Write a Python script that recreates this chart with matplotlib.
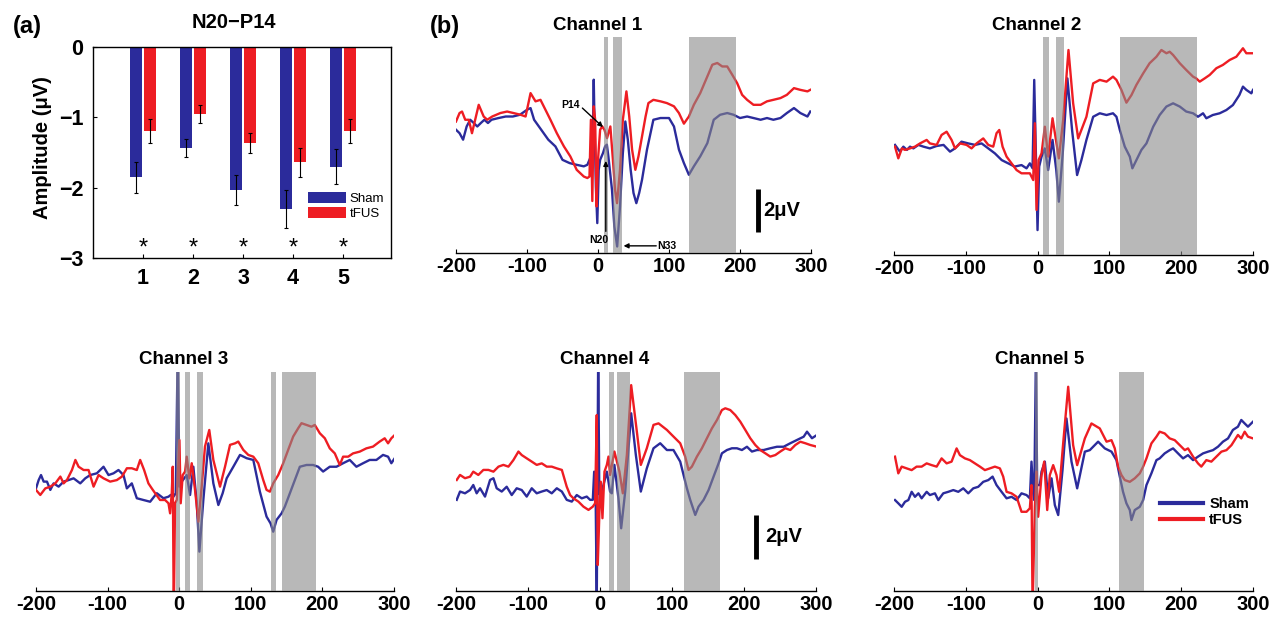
import matplotlib
matplotlib.use('Agg')
import matplotlib.pyplot as plt
import numpy as np

plt.rcParams['font.family'] = ['Liberation Sans', 'DejaVu Sans']
plt.rcParams['font.weight'] = 'bold'

BLUE = '#2B2B9B'
RED = '#EE1D23'
SHADE = '#8A8A8A'

# ---------------- Panel (a) data ----------------
channels = [1, 2, 3, 4, 5]
sham_amp = [-1.85, -1.44, -2.03, -2.30, -1.70]
sham_err = [0.22, 0.13, 0.21, 0.27, 0.25]
tfus_amp = [-1.20, -0.95, -1.36, -1.64, -1.19]
tfus_err = [0.17, 0.13, 0.14, 0.21, 0.17]
a_yticks = [0, -1, -2, -3]
a_yticklabels = ['0', '\u22121', '\u22122', '\u22123']

# ---------------- Panel (b) data (time in ms, amplitude in uV) ----------------
b_xticks = [-200, -100, 0, 100, 200, 300]
b_xticklabels = ['-200', '-100', '0', '100', '200', '300']

ch1_sham_t = [-200,-195,-190,-185,-180,-175,-170,-165,-160,-155,-150,-140,-130,-120,-110,-100,-95,-90,-80,-70,-60,-50,-40,-30,-20,-15,-10,-8,-6,-5,-3,-1,1,3,7,10,12.5,14.6,19.7,23,27,31,35,38.5,42,46,50,54,58,62,69,78,88,100,107,114,121,128,135,144,154,163,172,182,191,200,210,219,229,238,247,257,266,276,285,295,299]
ch1_sham_v = [-0.46,-0.62,-0.92,-0.31,0,-0.15,-0.31,-0.15,0,-0.15,0,0.08,0.15,0.15,0.23,0.46,0.54,0,-0.46,-0.92,-1.23,-1.85,-2.0,-2.08,-2.15,-2.08,-1.69,-2.15,1.85,0,-3.08,-4.77,-2.31,-1.85,-1.54,-1.23,-1.15,-1.69,-3.23,-4.92,-5.85,-4.0,-1.54,-0.08,-0.92,-2.31,-3.38,-3.85,-3.38,-2.77,-1.38,0,0.08,0.08,-0.31,-1.38,-2.0,-2.54,-2.15,-1.69,-1.08,0,0.23,0.31,0.23,0.08,0.15,0.08,0,0.08,0,0.08,0.31,0.54,0.31,0.15,0.38]
ch1_tfus_t = [-200,-195,-191.5,-187,-182,-177.5,-173,-168,-161,-156,-149,-137.5,-128,-119,-109,-102,-95,-88,-81,-74,-67,-58,-48,-39,-30,-20,-15,-12,-10,-8,-6,-4,-2,0,3,6,9,12.7,17.4,21,24,26.8,31,35,40,44,48,52.6,57,62,67,71,78,88,97,107,114,121,128,135,144,154,161,168,175,182,189,196,203,210,219,229,238,247,257,266,276,285,295,299]
ch1_tfus_v = [-0.08,0.31,0.38,0,0,-0.62,0,0.69,0.15,0,0.15,0.31,0.38,0.31,0.23,0.15,1.23,0.85,0.92,0.46,0,-0.62,-1.23,-1.69,-2.31,-2.62,-2.69,-2.62,0,-3.75,0.62,0,-4.0,-1.85,-0.46,-0.31,-0.46,-0.85,-0.31,-1.85,-3.23,-3.85,-2.31,0,1.31,0.15,-1.38,-2.31,-1.69,-0.77,0.15,0.77,0.92,0.85,0.77,0.62,0.31,-0.18,0.15,0.69,1.23,2.0,2.54,2.62,2.46,2.46,2.08,1.69,1.15,0.92,0.69,0.69,0.85,0.92,1.0,1.15,1.46,1.38,1.31,1.38]

ch2_sham_t = [-198.6,-191.7,-187,-182,-177.7,-173,-166,-159,-150,-140.6,-131,-122,-115,-106,-96.6,-87,-78,-68.7,-59.5,-50,-41,-32,-22.4,-15.4,-10.8,-7,-4.7,-2.4,-0.1,2.2,5.5,10,14.7,20.8,26,29.6,35,41.5,48,55,61,68,77.4,86.6,96,105,109.8,114.5,121.4,128.4,132,137.6,144.6,151.6,161,170,179.4,188.7,198,207,216.5,223.4,230.4,235,244,253.6,262.9,272,281,286,290.7,297.7,300]
ch2_sham_v = [0.08,-0.23,0,-0.15,0,-0.08,0.08,0,-0.08,0.03,0.08,-0.23,-0.08,0.23,0.15,0.08,0.15,-0.08,-0.31,-0.62,-0.77,-0.92,-0.85,-1.0,-0.77,-1.0,3.08,-0.31,-3.85,-0.92,-0.46,-0.08,-1.08,0.31,-1.08,-2.54,-0.31,3.15,0.77,-1.31,-0.62,0.31,1.38,1.54,1.46,1.54,1.38,0.77,0,-0.46,-1.0,-0.62,-0.15,0.15,0.92,1.46,1.85,2.0,1.85,1.62,1.54,1.38,1.54,1.31,1.46,1.54,1.69,1.92,2.38,2.77,2.62,2.46,2.62]
ch2_tfus_t = [-198.6,-194,-189,-184.7,-177.7,-170.8,-163.8,-154.5,-150,-140.6,-133.7,-126.7,-119.8,-115,-108,-98.9,-92,-85,-75.7,-68.7,-61.8,-57.2,-53.4,-48.8,-43.2,-36.3,-29.3,-22.4,-15.4,-10.8,-6.1,-3.8,-1.5,1.3,5.5,10.1,14.7,20.8,26.3,29.6,35.6,43,49.5,56.5,68,77.4,86.6,96,105,109.8,116.7,123.7,130.7,137.6,147,156,165.5,172.4,179.4,184,188.7,198,207,216.5,221,225.8,232.7,239.7,249,258,267.5,276.8,286,290.7,300]
ch2_tfus_v = [0,-0.54,-0.08,-0.15,-0.08,0,0.15,0.31,0.15,0.08,0.54,0.69,0.31,-0.08,0.15,0.08,-0.08,0.15,0.38,0.08,0,0.62,0.77,0,-0.46,-0.77,-1.08,-1.23,-1.23,-1.23,-1.54,1.08,-2.92,-0.62,-0.31,0.92,-0.46,1.31,0.15,-0.54,1.23,4.46,2.0,0.38,1.38,2.92,3.08,3.0,3.23,3.08,2.62,2.03,2.38,2.85,3.38,3.85,4.15,4.46,4.31,4.38,4.23,3.85,3.54,3.23,3.15,3.0,3.15,3.31,3.62,3.77,4.0,4.15,4.54,4.31,4.31]

ch3_sham_t = [-200,-196.3,-193,-189.3,-184.7,-180,-175.4,-168.4,-161.4,-154.5,-147.5,-138.2,-131.2,-124.3,-115,-105.7,-98.7,-91.7,-84.8,-77.8,-73.1,-66.2,-59.2,-50,-40.6,-31.3,-22,-15,-11.8,-8,-4.8,-2,0.3,3.5,10.5,15.2,19.8,24.5,28.2,33.7,40.7,47.7,54.7,60.7,66.3,75.6,84.9,94.2,103.5,112.7,122,127.6,131.3,136,143,147.6,154.6,161.5,168.5,177.8,187,194,201,210.3,219.6,228.9,238.2,247.5,256.8,266,275.4,284.7,291.7,296.3,301]
ch3_sham_v = [-0.08,0.30,0.53,0.23,0.23,-0.15,0.15,0,0.23,0.30,0.38,0.15,0.38,0.53,0.61,0.91,0.53,0.61,0.76,0.53,-0.08,0.15,-0.53,-0.61,-0.69,-0.30,-0.53,-0.46,-0.38,-0.46,-0.30,6.5,0,0.23,0.53,-0.38,0.91,-0.76,-2.97,-0.61,1.98,0.15,-0.84,-0.30,0.38,0.91,1.45,1.30,1.22,-0.23,-1.37,-1.68,-2.06,-1.52,-1.22,-0.91,-0.30,0.30,0.91,0.99,0.99,0.91,0.69,0.91,0.91,1.07,1.22,0.91,1.07,1.22,1.22,1.45,1.37,1.07,1.30]
ch3_tfus_t = [-200,-194,-187,-180,-173,-166,-161.4,-156.8,-149.8,-145,-140.5,-133.5,-126.6,-119.6,-112.6,-105.7,-96.4,-87.1,-80,-73.1,-66.2,-59.2,-54.5,-49,-43,-38.3,-33.6,-26.7,-19.7,-15,-12.7,-10.4,-9,-7.6,-5.8,-3.4,0.3,2.1,4.9,8.2,10.5,14.2,17.5,22.1,26.8,31.4,36,42,47.7,57,64,71,78,82.5,89.5,96.5,103.5,110.4,117.4,122,126.7,131.3,138.3,145.3,152.2,159.2,166.2,170.8,177.8,184.7,189.4,196.4,203.4,210.3,217.3,224.3,228.9,236,242.8,252.1,261.4,270.7,280,287,291.7,296.3,301]
ch3_tfus_v = [-0.15,-0.38,-0.08,0,0.15,0.46,0.15,0.30,0.76,1.22,0.91,0.76,0.76,0,0.53,0.38,0.23,0.30,0.46,0.84,0.84,0.76,1.22,0.76,0.15,-0.08,-0.30,-0.61,-0.61,-0.76,-1.22,-0.30,0.91,-6.0,-0.76,-0.61,2.13,-0.76,0.53,0.69,1.37,0.38,1.07,-0.15,-1.60,0,1.83,2.59,1.22,0,0.91,1.91,1.98,2.06,1.68,1.45,1.37,1.07,0.30,-0.15,-0.23,0.15,0.53,1.07,1.68,2.29,2.67,2.90,2.82,2.74,2.82,2.44,2.21,1.75,1.52,0.99,1.37,1.37,1.52,1.60,1.75,1.83,2.06,2.21,1.98,2.21,2.36]

ch4_sham_t = [-199,-194.4,-187.5,-180.5,-176,-171.3,-166.6,-159.7,-152.7,-148,-143.5,-136.5,-129.6,-122.6,-115.7,-108.7,-101.8,-94.8,-87.9,-80.9,-74,-67,-60,-53,-46.2,-39.2,-32.3,-25.3,-18.4,-13.7,-10,-8.1,-6,-4.5,-2.5,-1,0.2,4.8,9.5,14,16.4,20,25.6,29.4,35,43.3,49.8,56.7,65,74.3,83.6,92.9,102,111.4,120.7,125.3,132.3,136.9,143.9,150.8,157.7,164.7,169.3,176.3,183.2,190.2,197.1,204.1,211,218,227.2,236.5,245.8,255,264.3,273.6,282.9,287.5,294.4,301.4]
ch4_sham_v = [-0.30,0.08,0,0.15,0.38,0,0.23,-0.15,0.61,0.69,0.23,0.08,0.30,-0.08,0.23,0.15,-0.15,0.23,0,0.08,0.15,0,0.23,0.08,-0.30,-0.38,-0.08,-0.23,-0.15,-0.30,-0.30,0.99,-0.30,-5.0,6.5,0,-0.08,0.38,0.99,0.08,0,1.30,-0.23,-1.60,0.08,3.66,1.75,0.08,1.14,2.06,2.29,1.98,1.98,1.45,0.23,-0.30,-0.99,-0.61,-0.30,0.15,0.76,1.37,1.83,1.98,2.06,2.06,1.98,2.13,1.91,1.98,1.98,2.06,2.13,2.13,2.29,2.44,2.59,2.82,2.52,2.67]
ch4_tfus_t = [-199,-194.4,-187.5,-180.5,-176,-169,-162,-155,-148,-141,-134.2,-127.2,-120.3,-113.3,-108.7,-101.8,-94.8,-87.9,-80.9,-74,-67,-60,-53,-46.2,-41.5,-36.9,-30,-23,-16,-10,-6.8,-4.5,-3.1,-0.8,1.1,3.4,6.2,9.5,11.8,14,20,27,31.7,37.3,43.3,51.2,56.7,65,74.3,81.3,92.9,99.8,111.4,118.3,123,127.6,134.6,141.5,148.5,155.4,162.4,169.3,174,180.9,187.9,194.8,201.8,208.7,215.7,222.6,229.6,236.5,243.5,250.4,257.4,264.3,271.3,278.2,285.2,292.1,301.4]
ch4_tfus_v = [0.61,0.84,0.69,0.76,0.99,0.84,1.07,1.07,0.99,1.22,1.30,1.22,1.52,1.91,1.75,1.60,1.45,1.30,1.37,1.22,1.22,1.14,1.07,0.30,-0.08,-0.23,-0.38,-0.61,-0.76,-0.61,-0.46,3.58,-3.28,-0.84,0.53,-1.14,0.99,1.30,1.68,0.84,1.91,0.99,0,1.75,4.95,2.82,1.30,2.06,3.13,3.20,2.90,2.67,2.29,1.68,1.07,1.22,1.68,2.06,2.52,2.97,3.35,3.81,3.89,3.81,3.58,3.28,2.90,2.52,2.21,1.98,1.83,1.68,1.75,1.91,2.06,1.98,2.21,2.36,2.29,2.21,2.13]

ch5_sham_t = [-198.6,-194,-189.3,-184.7,-180,-175.4,-170.8,-166,-161.5,-154.5,-150,-143,-138.3,-131.4,-124.4,-117.4,-110.5,-103.5,-96.6,-89.6,-82.7,-75.7,-68.7,-62.7,-57.2,-50.2,-43.2,-36.3,-29.3,-22.4,-15.4,-10.8,-8.5,-6.1,-4.7,-2.4,-0.6,3.1,5.5,10.1,14.7,19.4,24,28.7,34.7,40.2,47.2,55.1,65.8,72.7,84.3,93.6,102.9,109.8,114.5,119,123.7,128.4,130.7,135.3,142.3,147,151.6,158.5,165.5,170,177,184,188.7,195.6,202.6,209.5,216.5,223.4,230.4,237.4,244.3,251.3,258.2,265.2,272,279,283.7,288.4,293,300]
ch5_sham_v = [0,-0.15,-0.31,-0.08,0,0.38,0.15,0.31,0.08,0.38,0.23,0.31,0,0.31,0.38,0.46,0.38,0.54,0.31,0.54,0.61,0.84,0.92,1.08,0.69,0.38,0.08,0.15,0,0.31,0.23,0.08,1.77,0.31,0,6.5,0.69,0.69,1.31,1.77,0.08,1.0,-0.23,-0.69,1.38,3.76,1.77,0.54,2.23,2.30,2.69,2.38,2.23,1.84,1.08,0.38,-0.15,-0.46,-0.92,-0.46,-0.31,0,0.69,1.23,1.84,1.92,2.15,2.30,2.38,2.15,1.92,2.07,1.84,2.0,2.15,2.23,2.30,2.46,2.69,2.84,3.23,3.38,3.69,3.53,3.38,3.61]
ch5_tfus_t = [-198.6,-194,-189.3,-182.4,-175.4,-168.5,-161.5,-154.5,-147.6,-140.6,-133.7,-126.7,-119.8,-112.8,-108.2,-101.2,-94.3,-87.3,-80.3,-73.4,-66.4,-59.5,-52.5,-47.9,-43.2,-36.3,-29.3,-22.4,-15.4,-10.8,-8.5,-7,-3.8,-1.5,0.8,5.5,9.2,13.4,17,21.7,26.3,30,35.6,42.6,49.5,55.1,65.8,75,86.6,96,102.9,107.5,112.1,116.8,121.4,128.4,135.3,142.3,147,151.6,158.5,165.5,170,177,184,191,198,205,209.5,216.5,223.4,228,235,242,249,256,263,270,279,283.7,288.4,293,300]
ch5_tfus_v = [2.0,1.23,1.54,1.46,1.38,1.54,1.54,1.69,1.61,1.54,1.92,1.69,1.77,2.38,2.07,1.92,1.84,1.69,1.54,1.38,1.46,1.54,1.46,1.08,0.38,0.31,0.15,-0.54,-0.54,-0.38,0.69,-5.0,-0.31,1.31,-0.77,1.15,1.77,-0.46,1.15,1.61,1.15,0.38,2.61,5.22,2.53,1.61,2.84,3.53,3.30,2.69,2.76,2.38,1.54,1.15,0.92,0.84,1.0,1.23,1.54,1.92,2.61,2.92,3.15,3.07,2.84,2.76,2.53,2.30,2.38,2.0,1.69,1.54,1.84,1.77,2.0,2.23,2.30,2.53,3.0,2.84,3.15,2.92,2.84]

# significant windows (ms)
ch1_windows = [(8, 14), (21, 34), (128, 195)]
ch2_windows = [(8, 16), (25, 37), (115, 222)]
ch3_windows = [(-4.5, 1), (8, 15), (25, 33), (128, 135), (144, 191)]
ch4_windows = [(13, 19), (24, 41), (117, 167)]
ch5_windows = [(-3.8, 0.8), (113.5, 148)]

scale_bar_uV = 2

# ---------------- Figure ----------------
W, H = 1278, 617
fig = plt.figure(figsize=(W / 100, H / 100), dpi=100)


def px_axes(l, t, r, b):
    return fig.add_axes([l / W, 1 - b / H, (r - l) / W, (b - t) / H])


# Panel (a)
axA = px_axes(93, 47, 391, 258)
x = np.array(channels, dtype=float)
ekw = dict(ecolor='k', elinewidth=0.8, capsize=1.5, capthick=0.8)
axA.bar(x - 0.14, sham_amp, 0.24, color=BLUE, yerr=sham_err, error_kw=ekw, label='Sham')
axA.bar(x + 0.14, tfus_amp, 0.24, color=RED, yerr=tfus_err, error_kw=ekw, label='tFUS')
axA.set_xlim(0, 5.96)
axA.set_ylim(-3, 0)
axA.set_yticks(a_yticks)
axA.set_yticklabels(a_yticklabels)
axA.set_xticks(channels)
axA.set_xticklabels([str(c) for c in channels])
axA.tick_params(direction='in', length=3, labelsize=15.5, pad=7)
for s in axA.spines.values():
    s.set_linewidth(1.0)
for c in channels:
    axA.text(c, -2.86, '*', ha='center', va='center', fontsize=17, fontweight='normal')
axA.legend(loc='upper left', bbox_to_anchor=(0.72, 0.315), frameon=False,
           prop=dict(size=9.5, weight='normal'), handlelength=2.9, handleheight=0.95,
           handletextpad=0.3, labelspacing=0.15, borderaxespad=0, borderpad=0)
fig.text(234 / W, 1 - 22 / H, 'N20\u2212P14', ha='center', va='center', fontsize=14.5, fontweight='bold')
fig.text(43 / W, 1 - 148 / H, 'Amplitude (\u03bcV)', ha='center', va='center', rotation=90,
         fontsize=14.5, fontweight='bold')
fig.text(27 / W, 1 - 27 / H, '(a)', ha='center', va='center', fontsize=17, fontweight='bold')
fig.text(445 / W, 1 - 27 / H, '(b)', ha='center', va='center', fontsize=17, fontweight='bold')

panels = [
    ('Channel 1', (456, 37, 811, 253), (-6.15, 3.82), ch1_sham_t, ch1_sham_v, ch1_tfus_t, ch1_tfus_v, ch1_windows, 0.400),
    ('Channel 2', (894, 37, 1253, 255), (-5.0, 5.06), ch2_sham_t, ch2_sham_v, ch2_tfus_t, ch2_tfus_v, ch2_windows, 0.398),
    ('Channel 3', (36, 372, 394, 591), (-4.77, 5.24), ch3_sham_t, ch3_sham_v, ch3_tfus_t, ch3_tfus_v, ch3_windows, 0.411),
    ('Channel 4', (456, 372, 816, 591), (-4.47, 5.55), ch4_sham_t, ch4_sham_v, ch4_tfus_t, ch4_tfus_v, ch4_windows, 0.414),
    ('Channel 5', (894, 372, 1253, 591), (-4.19, 5.90), ch5_sham_t, ch5_sham_v, ch5_tfus_t, ch5_tfus_v, ch5_windows, 0.407),
]

axes_b = []
for title, box, ylim, st, sv, tt, tv, wins, tx in panels:
    ax = px_axes(*box)
    ax.plot(st, sv, color=BLUE, lw=1.7, label='Sham', zorder=2)
    ax.plot(tt, tv, color=RED, lw=1.7, label='tFUS', zorder=2.1)
    for a, b in wins:
        ax.axvspan(a, b, color=SHADE, alpha=0.6, lw=0, zorder=3)
    ax.set_xlim(-200, 300)
    ax.set_ylim(*ylim)
    for side in ('left', 'right', 'top'):
        ax.spines[side].set_visible(False)
    ax.spines['bottom'].set_linewidth(1.0)
    ax.set_yticks([])
    ax.set_xticks(b_xticks)
    ax.set_xticklabels(b_xticklabels)
    ax.tick_params(axis='x', direction='in', length=3, labelsize=14.5, pad=3)
    ax.text(tx, 1 + 12 / (box[3] - box[1]), title, transform=ax.transAxes, ha='center',
            va='center', fontsize=13.5, fontweight='bold')
    axes_b.append(ax)

ax1, ax2, ax3, ax4, ax5 = axes_b

# scale bars
ax1.plot([225, 225], [-3.2, -3.2 - scale_bar_uV], color='k', lw=3.5, solid_capstyle='butt')
ax1.text(233, -4.2, '2\u03bcV', ha='left', va='center', fontsize=14.5, fontweight='bold')
ax4.plot([217, 217], [-0.99, -0.99 - scale_bar_uV], color='k', lw=3.5, solid_capstyle='butt')
ax4.text(229.6, -1.98, '2\u03bcV', ha='left', va='center', fontsize=14.5, fontweight='bold')

# component annotations (channel 1)
arw = dict(arrowstyle='-|>', color='k', lw=1.0, mutation_scale=7, shrinkA=0, shrinkB=0)
ax1.text(-25, 0.69, 'P14', ha='right', va='center', fontsize=7.5, fontweight='bold', zorder=5)
ax1.annotate('', xy=(7, -0.34), xytext=(-22, 0.54), arrowprops=arw, zorder=5)
ax1.text(1, -5.54, 'N20', ha='center', va='center', fontsize=7.5, fontweight='bold', zorder=5)
ax1.annotate('', xy=(11, -1.9), xytext=(11, -5.15), arrowprops=arw, zorder=5)
ax1.text(84, -5.82, 'N33', ha='left', va='center', fontsize=7.5, fontweight='bold', zorder=5)
ax1.annotate('', xy=(36, -5.82), xytext=(82, -5.82), arrowprops=arw, zorder=5)

# legend channel 5
leg = ax5.legend(loc='upper left', bbox_to_anchor=(0.74, 0.43), frameon=False,
                 prop=dict(size=10.5, weight='bold'), handlelength=3.0, handletextpad=0.4,
                 labelspacing=0.15, borderaxespad=0, borderpad=0)
for line in leg.get_lines():
    line.set_linewidth(3)

fig.savefig('out.png', dpi=100)
